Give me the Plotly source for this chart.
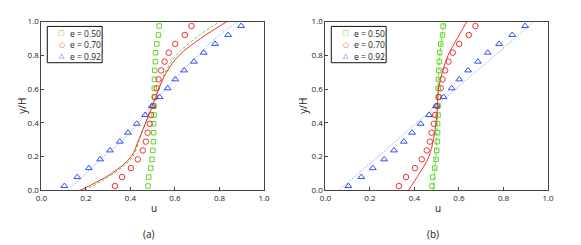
import plotly.graph_objects as go

# ---------------- data ----------------
y_exp = [0.026, 0.079, 0.132, 0.184, 0.237, 0.289, 0.342, 0.395, 0.447, 0.500,
         0.553, 0.605, 0.658, 0.711, 0.763, 0.816, 0.868, 0.921, 0.974]
u_e050 = [0.479, 0.482, 0.491, 0.497, 0.500, 0.503, 0.504, 0.504, 0.506, 0.506,
          0.507, 0.507, 0.508, 0.509, 0.512, 0.513, 0.518, 0.526, 0.529]
u_e070 = [0.330, 0.362, 0.402, 0.433, 0.455, 0.469, 0.477, 0.487, 0.493, 0.501,
          0.510, 0.518, 0.526, 0.538, 0.553, 0.572, 0.601, 0.644, 0.674]
u_e092 = [0.103, 0.161, 0.213, 0.264, 0.308, 0.352, 0.389, 0.428, 0.466, 0.496,
          0.531, 0.567, 0.601, 0.641, 0.685, 0.729, 0.780, 0.839, 0.897]

y_line = [0.0, 0.1, 0.2, 0.3, 0.4, 0.5, 0.6, 0.7, 0.8, 0.9, 1.0]
# panel (a) model curves
a_e050 = [0.192, 0.325, 0.410, 0.440, 0.468, 0.498, 0.525, 0.556, 0.605, 0.690, 0.800]
a_e070 = [0.173, 0.315, 0.403, 0.437, 0.468, 0.498, 0.527, 0.562, 0.618, 0.715, 0.833]
a_e092 = [0.117, 0.200, 0.278, 0.368, 0.435, 0.493, 0.557, 0.627, 0.704, 0.781, 0.883]
# panel (b) model curves
b_e050 = [0.484, 0.490, 0.496, 0.500, 0.502, 0.504, 0.506, 0.509, 0.514, 0.522, 0.535]
b_e070 = [0.372, 0.422, 0.465, 0.485, 0.497, 0.503, 0.508, 0.525, 0.551, 0.592, 0.635]
b_e092 = [0.059, 0.148, 0.236, 0.323, 0.410, 0.497, 0.585, 0.673, 0.762, 0.850, 0.938]

series_names = ["e = 0.50", "e = 0.70", "e = 0.92"]
tick_vals = [0.0, 0.2, 0.4, 0.6, 0.8, 1.0]
tick_text = ["0.0", "0.2", "0.4", "0.6", "0.8", "1.0"]
panel_labels = ["(a)", "(b)"]

# ---------------- style ----------------
W, H = 581, 245
OFF = 8  # page body margin
GREEN, RED, BLUE = "#5cd62a", "#f03232", "#3050f0"
BLUE_LINE = "#7090f5"
FONT = "Open Sans"
AX = "#444444"
TXT = "#222222"

def px(x):
    return (x - OFF) / W

def py(y):
    return 1 - (y - OFF) / H

fig = go.Figure()

panels = [
    dict(xa="x", ya="y", curves=(a_e050, a_e070, a_e092)),
    dict(xa="x2", ya="y2", curves=(b_e050, b_e070, b_e092)),
]

exp_data = [u_e050, u_e070, u_e092]
colors = [GREEN, RED, BLUE]
line_colors = [GREEN, RED, BLUE_LINE]
dashes = ["3px,2px", "solid", "1px,1.5px"]
symbols = ["square-open", "circle-open", "triangle-up-open"]
msizes = [4.5, 5.5, 6]

for p in panels:
    for k in range(3):
        fig.add_trace(go.Scatter(
            x=p["curves"][k], y=y_line, mode="lines", line_shape="spline",
            line=dict(color=line_colors[k], width=1, dash=dashes[k]),
            xaxis=p["xa"], yaxis=p["ya"], showlegend=False, hoverinfo="skip"))
    for k in range(3):
        fig.add_trace(go.Scatter(
            x=exp_data[k], y=y_exp, mode="markers", name=series_names[k],
            marker=dict(symbol=symbols[k], size=msizes[k], color=colors[k],
                        line=dict(width=1, color=colors[k])),
            xaxis=p["xa"], yaxis=p["ya"], showlegend=False))

# plot-area geometry in pixels (page coordinates)
left_a, right_a = 36, 263.3
left_b, right_b = 326, 553.3
top, bottom = 16, 192.7

axis_common = dict(
    range=[0, 1], showgrid=False, zeroline=False, showline=True, mirror=True,
    linecolor=AX, linewidth=1, ticks="inside", ticklen=3, tickcolor=AX,
    tickvals=tick_vals, ticktext=tick_text,
    tickfont=dict(family=FONT, size=8, color=TXT),
)

fig.update_layout(
    width=W, height=H, margin=dict(l=0, r=0, t=0, b=0),
    paper_bgcolor="white", plot_bgcolor="white", showlegend=False,
    xaxis=dict(domain=[px(left_a), px(right_a)], anchor="y", **axis_common),
    yaxis=dict(domain=[py(bottom), py(top)], anchor="x", **axis_common),
    xaxis2=dict(domain=[px(left_b), px(right_b)], anchor="y2", **axis_common),
    yaxis2=dict(domain=[py(bottom), py(top)], anchor="x2", **axis_common),
)

shapes = []
annotations = []
glyphs = ["\u25a1", "\u25cb", "\u25b3"]
for i, (l, r) in enumerate([(left_a, right_a), (left_b, right_b)]):
    cx = (l + r) / 2
    annotations.append(dict(text="u", x=px(cx + 1), y=py(211), xref="paper", yref="paper",
                            showarrow=False, xanchor="center", yanchor="middle", borderpad=0,
                            font=dict(family=FONT, size=10, color=TXT)))
    annotations.append(dict(text="y/H", x=px(max(l - 31, 8)), y=py(104), xref="paper", yref="paper",
                            showarrow=False, xanchor="left", yanchor="middle", textangle=-90,
                            borderpad=0, font=dict(family=FONT, size=10, color=TXT)))
    annotations.append(dict(text=panel_labels[i], x=px(cx - 4), y=py(238), xref="paper", yref="paper",
                            showarrow=False, xanchor="center", yanchor="middle", borderpad=0,
                            font=dict(family=FONT, size=10, color=TXT)))
    # legend box
    lx0, lx1, ly0, ly1 = l + 6, l + 62, 21, 59
    shapes.append(dict(type="rect", xref="paper", yref="paper",
                       x0=px(lx0), x1=px(lx1), y0=py(ly1), y1=py(ly0),
                       line=dict(color="#111111", width=1), fillcolor="white", layer="above"))
    for k in range(3):
        ry = 28 + 12 * k
        annotations.append(dict(text=glyphs[k], x=px(l + 21), y=py(ry), xref="paper", yref="paper",
                                showarrow=False, xanchor="center", yanchor="middle", borderpad=0,
                                font=dict(family="DejaVu Sans", size=7, color=colors[k])))
        annotations.append(dict(text=series_names[k], x=px(l + 28), y=py(ry), xref="paper", yref="paper",
                                showarrow=False, xanchor="left", yanchor="middle", borderpad=0,
                                font=dict(family=FONT, size=8.5, color=TXT)))

fig.update_layout(shapes=shapes, annotations=annotations)
fig.write_html("out.html")
